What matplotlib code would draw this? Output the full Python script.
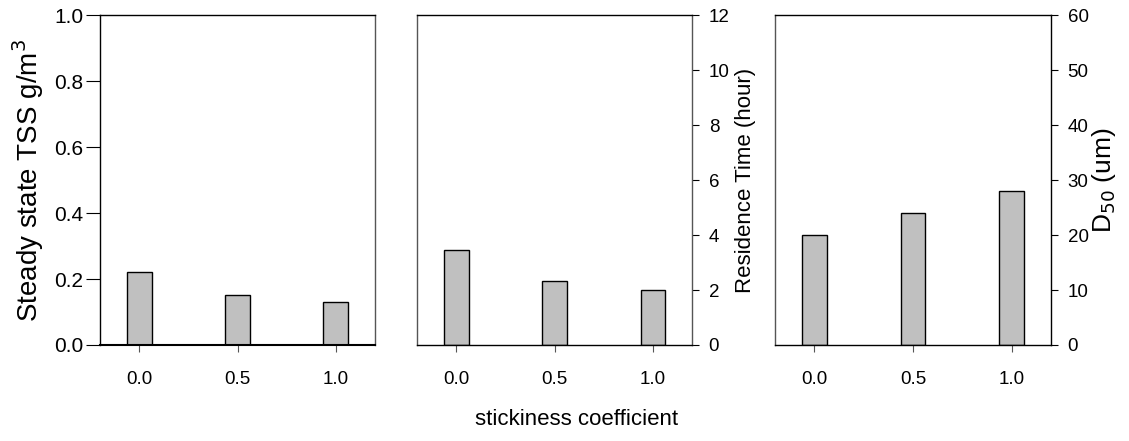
import matplotlib
matplotlib.use("Agg")
import matplotlib.pyplot as plt

plt.rcParams["font.family"] = ["Liberation Sans", "DejaVu Sans"]

# stickiness coefficient on the x axis
stickiness = [0.0, 0.5, 1.0]
xtick_labels = ["0.0", "0.5", "1.0"]

# one series per panel
tss = [0.22, 0.152, 0.13]             # g/m3
residence_time = [3.45, 2.34, 2.0]     # hour
d50 = [20, 24, 28]                     # um

bar_color = "#c0c0c0"
bar_w = 0.125

fig = plt.figure(figsize=(11.29, 4.41), dpi=100)
ax1 = fig.add_axes([0.0886, 0.2177, 0.2436, 0.748])
ax2 = fig.add_axes([0.3694, 0.2177, 0.2436, 0.748])
ax3 = fig.add_axes([0.6864, 0.2177, 0.2445, 0.748])


def style_bars(ax, vals, ymax, yticks):
    ax.bar(stickiness, vals, width=bar_w, color=bar_color,
           edgecolor="black", linewidth=1.0, zorder=2)
    ax.set_xlim(-0.2, 1.2)
    ax.set_ylim(0, ymax)
    ax.set_yticks(yticks)
    ax.set_xticks(stickiness)
    ax.set_xticklabels(xtick_labels)
    ax.tick_params(axis="x", length=5, width=0.8, color="#555555",
                   labelsize=13.5, pad=14)
    for s in ax.spines.values():
        s.set_linewidth(1.0)


# panel 1: TSS, ticks on the left
style_bars(ax1, tss, 1.0, [0.0, 0.2, 0.4, 0.6, 0.8, 1.0])
ax1.set_yticklabels(["0.0", "0.2", "0.4", "0.6", "0.8", "1.0"])
ax1.tick_params(axis="y", length=10, width=0.8, labelsize=15, pad=2)
ax1.spines["bottom"].set_linewidth(1.5)
ax1.spines["right"].set_color("#555555")
ax1.set_ylabel("Steady state TSS g/m$^3$", fontsize=20, labelpad=6)

# panel 2: residence time, ticks on the right
style_bars(ax2, residence_time, 12, [0, 2, 4, 6, 8, 10, 12])
ax2.yaxis.tick_right()
ax2.yaxis.set_label_position("right")
ax2.tick_params(axis="y", length=5, width=0.8, labelsize=13.5, pad=7)
ax2.spines["left"].set_color("#555555")
ax2.spines["right"].set_color("#555555")
ax2.set_ylabel("Residence Time (hour)", fontsize=16, labelpad=4)

# panel 3: median particle size, ticks on the right
style_bars(ax3, d50, 60, [0, 10, 20, 30, 40, 50, 60])
ax3.yaxis.tick_right()
ax3.yaxis.set_label_position("right")
ax3.tick_params(axis="y", length=5, width=0.8, labelsize=13.5, pad=7)
ax3.spines["left"].set_color("#555555")
ax3.set_ylabel("D$_{50}$ (um)", fontsize=19, labelpad=1)

# shared x label under the middle panel
fig.text(0.511, 0.048, "stickiness coefficient", fontsize=16,
         ha="center", va="center")

fig.savefig("out.png", dpi=100)
